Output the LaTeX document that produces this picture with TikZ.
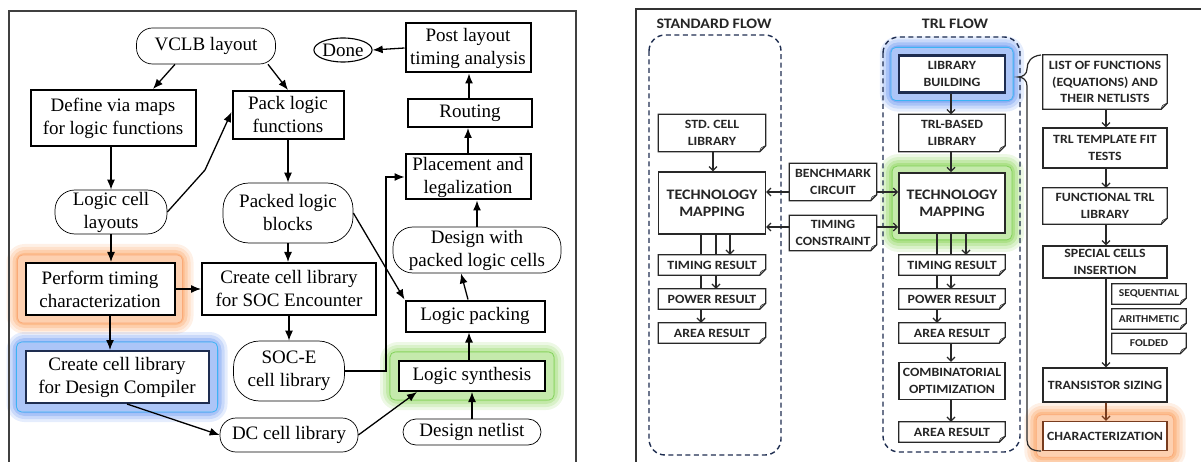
\documentclass[tikz,border=0pt]{standalone}
\usepackage{fontspec}
\newfontfamily\lserif{Liberation Serif}
\newfontfamily\rsans[FakeStretch=1.1]{Carlito}
\usetikzlibrary{arrows.meta,calc,shapes.geometric}
\pgfdeclarelayer{bg}
\pgfsetlayers{bg,main}
\definecolor{rc}{RGB}{40,40,40}
\definecolor{navy}{RGB}{30,45,80}
\definecolor{og}{RGB}{250,135,50}
\definecolor{ogring}{RGB}{250,170,120}
\definecolor{bglow}{RGB}{40,105,235}
\definecolor{bring}{RGB}{60,180,245}
\definecolor{gglow}{RGB}{105,200,40}
\definecolor{gring}{RGB}{130,210,90}
\definecolor{brownc}{RGB}{120,60,30}
\newcommand{\glowbox}[4]{%
\begin{pgfonlayer}{bg}
\foreach \r/\o in {18/0.12,15/0.15,12/0.2,9/0.25} {
  \fill[#2,opacity=\o,rounded corners=\r pt] ([shift={(-\r pt,\r pt)}]#1.north west) rectangle ([shift={(\r pt,-\r pt)}]#1.south east);
}
\fill[white,opacity=0.3,rounded corners=5pt] ([shift={(-#4 pt,#4 pt)}]#1.north west) rectangle ([shift={(#4 pt,-#4 pt)}]#1.south east);
\draw[#3,line width=0.8pt,rounded corners=5pt] ([shift={(-#4 pt,#4 pt)}]#1.north west) rectangle ([shift={(#4 pt,-#4 pt)}]#1.south east);
\end{pgfonlayer}}
\newcommand{\docout}[1]{%
\draw[rline] (#1.north west) -- (#1.north east) -- ([yshift=6pt]#1.south east) -- ([xshift=-6pt]#1.south east) -- (#1.south west) -- cycle;
\draw[rc,line width=0.6pt] ([xshift=-6pt]#1.south east) .. controls ([shift={(-5pt,4pt)}]#1.south east) .. ([yshift=6pt]#1.south east);}
\tikzset{
  lfont/.style={font=\lserif\fontsize{19}{23}\selectfont},
  lbox/.style={draw,line width=2pt,lfont,align=center,inner sep=0pt,fill=white},
  lrnd/.style={draw,line width=0.7pt,lfont,align=center,inner sep=0pt,fill=white},
  larr/.style={line width=1.3pt,-{Latex[length=10pt,width=8pt]}},
  rline/.style={draw=rc,line width=1.2pt},
  rfont/.style={font=\rsans\bfseries\fontsize{12.6}{16.5}\selectfont,text=black!85},
  bigfont/.style={font=\rsans\bfseries\fontsize{14.5}{17}\selectfont},
  rbox/.style={rline,rfont,align=center,inner sep=0pt,fill=white},
  rdoc/.style={rfont,align=center,inner sep=0pt,fill=white},
  rsmall/.style={font=\rsans\bfseries\fontsize{10.5}{12}\selectfont,text=black!85,align=center,inner sep=0pt,fill=white,minimum width=74pt,minimum height=20pt},
  rarr/.style={rline,-{Straight Barb[length=4pt,width=8pt]}},
  dbox/.style={draw=navy,line width=1.4pt,dash pattern=on 5pt off 3.5pt,rounded corners=16pt},
}
\begin{document}
\begin{tikzpicture}[x=1pt,y=-1pt]
\useasboundingbox (0,0) rectangle (1201,462);
% ---------- left panel ----------
\draw[line width=1.5pt,black!75] (9,475) -- (9,11) -- (576,11) -- (576,475);
\node[lrnd,rounded corners=16pt,minimum width=139pt,minimum height=36pt] (vclb) at (206,46) {VCLB layout};
\node[lbox,minimum width=165pt,minimum height=56pt] (define) at (113,118) {Define via maps\\for logic functions};
\node[lbox,minimum width=111pt,minimum height=48pt] (pack) at (288,115) {Pack logic\\functions};
\node[lrnd,rounded corners=20pt,minimum width=112pt,minimum height=44pt] (lcl) at (111,212) {Logic cell\\layouts};
\node[lrnd,rounded corners=26pt,minimum width=130pt,minimum height=60pt] (plb) at (288,213) {Packed logic\\blocks};
\node[draw,ellipse,line width=1.1pt,lfont,inner sep=0pt,minimum width=56pt,minimum height=24pt] (done) at (343,50) {Done};
\node[lbox,minimum width=125pt,minimum height=49pt] (post) at (468,48) {Post layout\\timing analysis};
\node[lbox,minimum width=124pt,minimum height=28pt] (route) at (470,113) {Routing};
\node[lbox,minimum width=125pt,minimum height=45pt] (place) at (468,177) {Placement and\\legalization};
\node[lrnd,rounded corners=20pt,minimum width=168pt,minimum height=46pt] (dwp) at (477,250) {Design with\\packed logic cells};
\node[lbox,minimum width=139pt,minimum height=31pt] (lpack) at (475,316) {Logic packing};
\node[lbox,minimum width=146pt,minimum height=30pt] (synth) at (472,376) {Logic synthesis};
\node[lrnd,rounded corners=13pt,minimum width=138pt,minimum height=26pt] (netl) at (472,432) {Design netlist};
\node[lbox,minimum width=149pt,minimum height=52pt] (perf) at (100,289) {Perform timing\\characterization};
\node[lbox,minimum width=174pt,minimum height=52pt] (soc) at (289,289) {Create cell library\\for SOC Encounter};
\node[lbox,draw=navy,minimum width=183pt,minimum height=52pt] (dcc) at (117,377) {Create cell library\\for Design Compiler};
\node[lrnd,rounded corners=26pt,minimum width=111pt,minimum height=60pt] (soce) at (289,371) {SOC-E\\cell library};
\node[lrnd,rounded corners=16pt,minimum width=138pt,minimum height=34pt] (dclib) at (289,435) {DC cell library};
\glowbox{perf}{og}{ogring}{7}
\glowbox{dcc}{bglow}{bring}{8}
\glowbox{synth}{gglow}{gring}{8}
\draw[larr] ([xshift=-31pt]vclb.south) -- ([xshift=40pt]define.north);
\draw[larr] ([xshift=62pt]vclb.south) -- (pack.north);
\draw[larr] (define.south -| lcl.north) -- (lcl.north);
\draw[larr] (lcl.east) -- (205,170) -- ([yshift=3pt]pack.west);
\draw[larr] (pack.south) -- (plb.north);
\draw[larr] (lcl.south) -- (lcl.south |- perf.north);
\draw[larr] (perf.east) -- (soc.west);
\draw[larr] ([xshift=10pt]perf.south) -- ([xshift=-7pt]dcc.north);
\draw[larr] (plb.south) -- (plb.south |- soc.north);
\draw[larr] (soc.south) -- (soce.north);
\draw[larr] ([xshift=10pt]dcc.south) -- (dclib.west);
\draw[larr] (dclib.east) -- ([xshift=-55pt]synth.south);
\draw[larr] (soce.east) -- ++(41,0) |- (place.west);
\draw[larr] (plb.east) -- (lpack.north west);
\draw[larr] ([xshift=-3pt]synth.north) -- ([xshift=-6pt]lpack.south);
\draw[larr] (netl.north) -- (synth.south);
\draw[larr] ([xshift=-7pt]lpack.north) -- ([xshift=-16pt]dwp.south);
\draw[larr] (dwp.north) -- ([xshift=9pt]place.south);
\draw[larr] (place.north) -- ([xshift=-2pt]route.south);
\draw[larr] ([xshift=-1pt]route.north) -- ([xshift=1pt]post.south);
\draw[larr] (post.west) -- (done.east);
% ---------- right panel ----------
\draw[line width=1.2pt,black!80] (636,475) -- (636,9) -- (1210,9);
\node[font=\rsans\bfseries\fontsize{14.5}{17}\selectfont,text=black!85] (tstd) at (714,24) {STANDARD FLOW};
\node[font=\rsans\bfseries\fontsize{14.5}{17}\selectfont,text=black!85] (ttrl) at (955,24) {TRL FLOW};
\draw[dbox] (649,35) rectangle (781,455);
\draw[dbox] (883,37) rectangle (1020,452);
% standard flow
\node[rdoc,minimum width=107pt,minimum height=37pt] (std) at (712,133) {STD. CELL\\LIBRARY};
\node[rbox,bigfont,minimum width=107pt,minimum height=62pt] (stech) at (712,203) {TECHNOLOGY\\MAPPING};
\node[rdoc,minimum width=107pt,minimum height=20pt] (stim) at (712,265) {TIMING RESULT};
\node[rdoc,minimum width=107pt,minimum height=20pt] (spow) at (712,299) {POWER RESULT};
\node[rdoc,minimum width=107pt,minimum height=20pt] (sarea) at (712,333) {AREA RESULT};
\docout{std}\docout{stim}\docout{spow}\docout{sarea}
\node[rdoc,minimum width=87pt,minimum height=37pt] (bench) at (833,182) {BENCHMARK\\CIRCUIT};
\node[rdoc,minimum width=87pt,minimum height=35pt] (tcons) at (833,233) {TIMING\\CONSTRAINT};
\docout{bench}\docout{tcons}
% TRL flow
\node[rbox,draw=navy,line width=2.2pt,minimum width=106pt,minimum height=37pt] (lib) at (952,74) {LIBRARY\\BUILDING};
\node[rdoc,minimum width=106pt,minimum height=37pt] (tlib) at (952,133) {TRL-BASED\\LIBRARY};
\node[rbox,bigfont,line width=1.8pt,minimum width=106pt,minimum height=60pt] (ttech) at (952,203) {TECHNOLOGY\\MAPPING};
\node[rdoc,minimum width=106pt,minimum height=20pt] (ttim) at (952,265) {TIMING RESULT};
\node[rdoc,minimum width=106pt,minimum height=20pt] (tpow) at (952,299) {POWER RESULT};
\node[rdoc,minimum width=106pt,minimum height=20pt] (tarea) at (952,333) {AREA RESULT};
\node[rbox,minimum width=106pt,minimum height=37pt] (comb) at (952,381) {COMBINATORIAL\\OPTIMIZATION};
\node[rdoc,minimum width=106pt,minimum height=20pt] (tarea2) at (952,432) {AREA RESULT};
\docout{tlib}\docout{ttim}\docout{tpow}\docout{tarea}\docout{tarea2}
\glowbox{lib}{bglow}{bring}{7}
\glowbox{ttech}{gglow}{gring}{6}
% right column
\node[rdoc,minimum width=124pt,minimum height=54pt] (list) at (1105,82) {LIST OF FUNCTIONS\\(EQUATIONS) AND\\THEIR NETLISTS};
\node[rbox,minimum width=124pt,minimum height=40pt] (fit) at (1105,148) {TRL TEMPLATE FIT\\TESTS};
\node[rdoc,minimum width=124pt,minimum height=36pt] (func) at (1105,206) {FUNCTIONAL TRL\\LIBRARY};
\node[rbox,minimum width=124pt,minimum height=32pt] (spec) at (1105,262) {SPECIAL CELLS\\INSERTION};
\node[rsmall] (seq) at (1149,294) {SEQUENTIAL};
\node[rsmall] (arith) at (1149,319) {ARITHMETIC};
\node[rsmall] (fold) at (1149,343.5) {FOLDED};
\node[rbox,minimum width=124pt,minimum height=34pt] (tsz) at (1105,385) {TRANSISTOR SIZING};
\node[rbox,draw=brownc,line width=1.4pt,minimum width=124pt,minimum height=29pt] (char) at (1105,436) {CHARACTERIZATION};
\docout{list}\docout{func}\docout{seq}\docout{arith}\docout{fold}
\glowbox{char}{og}{ogring}{6}
% brace
\draw[rline] (1041,55) .. controls (1031,56) and (1027,62) .. (1027,69) .. controls (1027,74) and (1023,77) .. (1018,77) .. controls (1023,77) and (1027,80) .. (1027,86) -- (1027,440) .. controls (1027,447) and (1031,451) .. (1041,451);
% connectors standard
\draw[rarr] ([xshift=1pt]std.south) -- ([xshift=1pt]stech.north);
\draw[rarr] ([xshift=18pt]stech.south) -- ([xshift=18pt]stim.north);
\draw[rline] ([xshift=4pt]stech.south) -- ([xshift=4pt]stim.north);
\draw[rarr] ([xshift=4pt]stim.south) -- ([xshift=4pt]spow.north);
\draw[rline] ([xshift=-11pt]stech.south) -- ([xshift=-11pt]stim.north);
\draw[rline] ([xshift=-11pt]stim.south) -- ([xshift=-11pt]spow.north);
\draw[rarr] ([xshift=-11pt]spow.south) -- ([xshift=-11pt]sarea.north);
\draw[rarr] ([yshift=-10pt]bench.west) -- ([yshift=11pt]stech.east);
\draw[rarr] ([yshift=-10pt]bench.east) -- ([yshift=11pt]ttech.west);
\draw[rarr] ([yshift=6pt]tcons.west) -- ([yshift=-24pt]stech.east);
\draw[rarr] ([yshift=6pt]tcons.east) -- ([yshift=-24pt]ttech.west);
% connectors TRL
\draw[rarr] ([xshift=-1pt]lib.south) -- ([xshift=-1pt]tlib.north);
\draw[rarr] ([xshift=-1pt]tlib.south) -- ([xshift=-1pt]ttech.north);
\draw[rarr] ([xshift=14pt]ttech.south) -- ([xshift=14pt]ttim.north);
\draw[rline] ([xshift=-1pt]ttech.south) -- ([xshift=-1pt]ttim.north);
\draw[rarr] ([xshift=-1pt]ttim.south) -- ([xshift=-1pt]tpow.north);
\draw[rline] ([xshift=-15pt]ttech.south) -- ([xshift=-15pt]ttim.north);
\draw[rline] ([xshift=-15pt]ttim.south) -- ([xshift=-15pt]tpow.north);
\draw[rarr] ([xshift=-15pt]tpow.south) -- ([xshift=-15pt]tarea.north);
\draw[rarr] ([xshift=-1pt]tarea.south) -- ([xshift=-1pt]comb.north);
\draw[rarr] ([xshift=-1pt]comb.south) -- ([xshift=-1pt]tarea2.north);
% connectors right column
\draw[rarr] ([xshift=1pt]list.south) -- ([xshift=1pt]fit.north);
\draw[rarr] ([xshift=1pt]fit.south) -- ([xshift=1pt]func.north);
\draw[rarr] ([xshift=1pt]func.south) -- ([xshift=1pt]spec.north);
\draw[rarr] ([xshift=1pt]spec.south) -- ([xshift=1pt]tsz.north);
\draw[rarr,draw=brownc] ([xshift=1pt]tsz.south) -- ([xshift=1pt]char.north);
\end{tikzpicture}
\end{document}
